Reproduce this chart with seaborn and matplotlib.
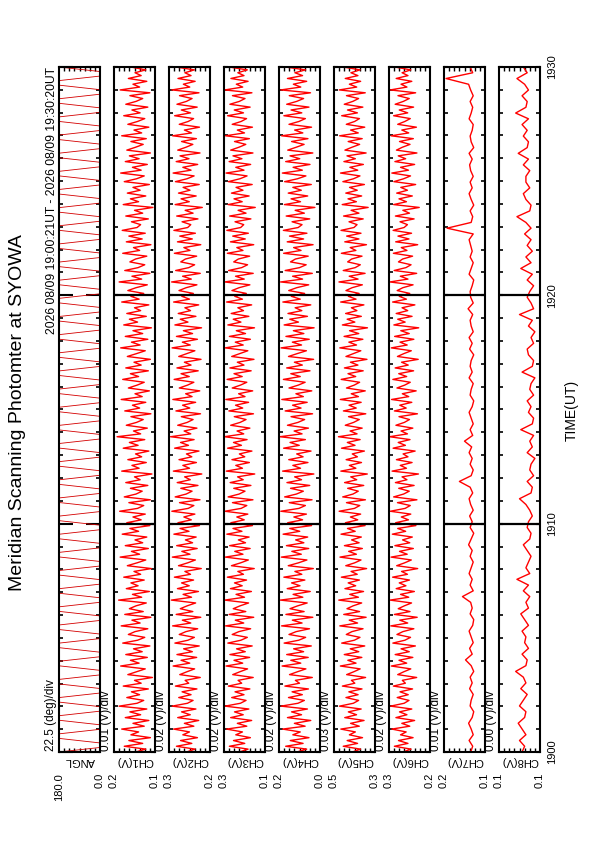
import numpy as np
import matplotlib
matplotlib.use("Agg")
import matplotlib.pyplot as plt
import seaborn as sns
from matplotlib.ticker import MultipleLocator, FixedLocator

sns.set_theme(style="ticks")
plt.rcParams['font.family'] = ['Liberation Sans', 'DejaVu Sans']
plt.rcParams['text.color'] = 'black'
plt.rcParams['xtick.color'] = 'black'
plt.rcParams['ytick.color'] = 'black'
plt.rcParams['xtick.labelcolor'] = 'black'
plt.rcParams['ytick.labelcolor'] = 'black'

# ----- data (time in minutes after 19:00 UT)
angl_deg = [180, 0, 0, 180, 180, 0, 0, 180, 180, 0, 0, 180, 180, 0, 0, 180, 180, 0, 0, 180,
            180, 0, 0, 180, 180, 0, 0, 180, 180, 0, 0, 180, 180, 0, 0, 180, 180, 0, 0, 180,
            180, 0, 0, 180, 180, 0, 0, 180, 180, 0, 0, 180, 180, 0, 0, 180, 180, 0, 0, 180,
            180, 0, 0, 180, 180, 0, 0, 180, 180, 0, 0, 180, 180, 0, 0, 180, 180, 0, 0, 180,
            180, 0, 0, 180, 180, 0, 0, 180, 180, 0, 0, 180, 180, 0, 0, 180, 180, 0, 0, 180,
            180, 0, 0, 180, 180, 0, 0, 180, 180, 0, 0, 180, 180, 0, 0, 180, 180, 0, 0, 180,
            180, 0, 0, 180, 180, 0, 0, 180, 180, 0, 0, 180, 180, 0, 0, 180, 180, 0, 0, 180,
            180, 0, 0, 180, 180, 0, 0, 180, 180, 0, 0, 180]

# channel values in mV
ch1_mv = [138, 118, 160, 124, 151, 109, 147, 132, 165, 121, 143, 112, 158, 128, 149, 116, 170, 135, 122, 155,
          130, 146, 113, 162, 127, 140, 105, 153, 136, 119, 167, 131, 148, 115, 157, 125, 142, 110, 163, 134,
          120, 152, 139, 114, 166, 129, 145, 108, 159, 123, 150, 137, 117, 171, 126, 144, 111, 156, 133, 147,
          121, 161, 128, 141, 107, 154, 135, 118, 168, 130, 146, 113, 158, 124, 139, 116, 164, 132, 149, 110,
          155, 127, 143, 119, 169, 134, 122, 151, 109, 160, 137, 125, 148, 114, 157, 129, 140, 106, 165, 131,
          145, 117, 153, 126, 138, 112, 162, 133, 150, 120, 174, 128, 142, 115, 156, 136, 123, 147, 108, 159,
          130, 144, 118, 166, 125, 139, 111, 152, 135, 121, 163, 132, 148, 113, 157, 127, 141, 109, 154, 136,
          119, 167, 129, 146, 114, 158, 124, 143, 107, 161, 134, 150, 117, 155, 128, 140, 112, 165, 131, 147,
          122, 153, 137, 115, 170, 126, 145, 110, 159, 133, 120, 149, 138, 116, 163, 130, 142, 108, 156, 125,
          151, 119, 164, 135, 128, 146, 113, 157, 124, 140, 104, 162, 132, 148, 118, 154, 129, 143, 111, 160,
          136, 121, 167, 127, 144, 115, 158, 131, 150, 109, 155, 138, 123, 147, 117, 165, 126, 141, 112, 153,
          134, 120, 161, 129, 145, 114, 157, 137, 124, 149, 110, 168, 130, 143, 116, 152, 127, 139, 118, 147]
ch2_mv = [262, 228, 301, 241, 285, 219, 276, 250, 312, 233, 270, 214, 296, 247, 281, 225, 318, 258, 236, 292,
          244, 279, 221, 305, 253, 267, 208, 288, 260, 230, 314, 249, 283, 222, 299, 239, 273, 212, 307, 256,
          231, 290, 264, 218, 316, 245, 278, 206, 302, 237, 286, 259, 226, 321, 242, 275, 215, 297, 251, 281,
          234, 309, 246, 268, 204, 293, 257, 227, 317, 248, 280, 220, 300, 238, 266, 224, 311, 252, 287, 211,
          295, 243, 272, 229, 319, 255, 233, 289, 209, 306, 263, 240, 284, 217, 298, 247, 269, 202, 313, 250,
          276, 223, 291, 241, 262, 213, 308, 254, 285, 232, 324, 245, 271, 221, 296, 259, 236, 282, 207, 303,
          249, 277, 226, 315, 240, 265, 210, 290, 258, 233, 310, 251, 283, 216, 299, 244, 270, 205, 292, 261,
          229, 318, 247, 278, 219, 301, 238, 274, 203, 307, 256, 286, 225, 294, 246, 268, 214, 312, 250, 280,
          235, 291, 263, 221, 320, 243, 277, 208, 304, 253, 230, 284, 266, 222, 309, 248, 272, 206, 297, 239,
          288, 227, 311, 257, 245, 279, 217, 300, 236, 267, 200, 306, 251, 283, 224, 293, 248, 275, 212, 305,
          260, 232, 314, 244, 276, 218, 302, 252, 287, 209, 296, 264, 237, 281, 223, 316, 242, 270, 211, 290,
          255, 234, 308, 246, 282, 220, 299, 262, 240, 289, 213, 319, 249, 274, 228, 295, 244, 268, 231, 303]
ch3_mv = [240, 206, 279, 219, 263, 197, 254, 228, 290, 211, 248, 192, 274, 225, 259, 203, 296, 236, 214, 270,
          222, 257, 199, 283, 231, 245, 186, 266, 238, 208, 292, 227, 261, 200, 277, 217, 251, 190, 285, 234,
          209, 268, 242, 196, 294, 223, 256, 184, 280, 215, 264, 237, 204, 298, 220, 253, 193, 275, 229, 259,
          212, 287, 224, 246, 182, 271, 235, 205, 295, 226, 258, 198, 278, 216, 244, 202, 289, 230, 265, 189,
          273, 221, 250, 207, 297, 233, 211, 267, 187, 284, 241, 218, 262, 195, 276, 225, 247, 180, 291, 228,
          254, 201, 269, 219, 240, 191, 286, 232, 263, 210, 299, 223, 249, 199, 274, 237, 214, 260, 185, 281,
          227, 255, 204, 293, 218, 243, 188, 268, 236, 211, 288, 229, 261, 194, 277, 222, 248, 183, 270, 239,
          207, 296, 225, 256, 197, 279, 216, 252, 181, 285, 234, 264, 203, 272, 224, 246, 192, 290, 228, 258,
          213, 269, 241, 199, 298, 221, 255, 186, 282, 231, 208, 262, 244, 200, 287, 226, 250, 184, 275, 217,
          266, 205, 289, 235, 223, 257, 195, 278, 214, 245, 178, 284, 229, 261, 202, 271, 226, 253, 190, 283,
          238, 210, 292, 222, 254, 196, 280, 230, 265, 187, 274, 242, 215, 259, 201, 294, 220, 248, 189, 268,
          233, 212, 286, 224, 260, 198, 277, 240, 218, 267, 191, 297, 227, 252, 206, 273, 222, 246, 209, 281]
ch4_mv = [130, 92, 174, 106, 156, 83, 146, 117, 186, 98, 140, 76, 167, 112, 151, 89, 192, 126, 101, 163,
          109, 149, 85, 177, 120, 136, 70, 159, 128, 95, 188, 115, 154, 86, 170, 104, 143, 74, 180, 123,
          96, 161, 133, 81, 190, 110, 148, 68, 173, 102, 157, 127, 90, 195, 107, 145, 78, 168, 118, 151,
          99, 181, 111, 138, 66, 164, 124, 91, 191, 113, 150, 84, 171, 103, 135, 88, 184, 119, 158, 73,
          166, 108, 142, 93, 193, 122, 97, 160, 71, 178, 132, 105, 155, 80, 169, 112, 139, 64, 186, 116,
          146, 87, 162, 106, 131, 75, 182, 121, 157, 97, 197, 110, 141, 85, 167, 126, 100, 153, 69, 176,
          114, 147, 90, 189, 105, 134, 72, 161, 125, 98, 183, 117, 154, 79, 170, 109, 140, 65, 163, 129,
          93, 192, 112, 148, 82, 173, 103, 144, 63, 180, 124, 158, 89, 165, 111, 137, 76, 185, 117, 152,
          100, 162, 131, 84, 194, 108, 147, 70, 176, 120, 94, 155, 136, 86, 182, 114, 143, 67, 168, 104,
          159, 91, 183, 125, 110, 149, 80, 172, 101, 137, 60, 179, 116, 153, 88, 164, 113, 146, 74, 178,
          128, 95, 187, 109, 145, 79, 174, 119, 157, 68, 166, 133, 102, 151, 87, 190, 107, 139, 73, 161,
          122, 97, 181, 111, 153, 83, 170, 131, 104, 160, 77, 193, 115, 144, 92, 167, 108, 138, 96, 175]
ch5_mv = [392, 345, 446, 362, 423, 333, 410, 375, 460, 352, 403, 324, 437, 368, 416, 341, 468, 387, 356, 430,
          359, 413, 336, 451, 378, 398, 315, 426, 384, 347, 463, 371, 419, 337, 440, 355, 405, 320, 455, 381,
          348, 428, 395, 330, 466, 362, 411, 312, 443, 350, 424, 388, 338, 472, 357, 408, 327, 436, 373, 417,
          351, 457, 364, 400, 309, 431, 379, 342, 465, 369, 414, 334, 439, 353, 397, 340, 459, 376, 421, 318,
          433, 361, 404, 344, 470, 380, 349, 427, 316, 449, 389, 358, 420, 326, 438, 367, 402, 305, 460, 372,
          410, 339, 429, 363, 393, 322, 456, 377, 422, 347, 474, 365, 406, 335, 434, 385, 352, 415, 314, 445,
          370, 412, 341, 463, 357, 399, 317, 427, 382, 350, 458, 373, 418, 329, 439, 360, 404, 307, 430, 387,
          343, 466, 368, 413, 331, 441, 355, 409, 304, 451, 378, 423, 340, 432, 366, 398, 325, 461, 371, 416,
          353, 430, 394, 334, 471, 359, 411, 318, 446, 376, 346, 420, 397, 336, 457, 372, 405, 310, 437, 354,
          426, 342, 459, 383, 365, 412, 329, 444, 354, 400, 300, 452, 369, 418, 338, 431, 364, 409, 322, 448,
          386, 348, 462, 361, 407, 328, 442, 375, 424, 312, 436, 395, 350, 417, 335, 467, 358, 403, 320, 428,
          379, 351, 455, 363, 421, 331, 440, 390, 356, 427, 317, 469, 367, 410, 344, 434, 360, 401, 347, 447]
ch6_mv = [275, 244, 309, 256, 293, 236, 285, 263, 319, 249, 280, 230, 303, 260, 289, 241, 324, 271, 252, 298,
          255, 287, 238, 313, 266, 278, 222, 296, 272, 245, 321, 261, 291, 237, 306, 251, 283, 227, 315, 268,
          246, 299, 276, 233, 323, 257, 288, 220, 309, 248, 294, 270, 242, 326, 253, 285, 231, 302, 264, 290,
          250, 316, 258, 281, 218, 300, 269, 243, 322, 259, 289, 235, 307, 249, 277, 239, 317, 265, 296, 225,
          304, 254, 282, 245, 325, 267, 247, 297, 221, 312, 273, 251, 292, 232, 305, 260, 279, 215, 318, 262,
          286, 240, 301, 256, 275, 228, 314, 266, 294, 248, 328, 258, 283, 237, 303, 270, 250, 291, 219, 309,
          263, 288, 241, 320, 253, 278, 224, 299, 269, 247, 315, 261, 292, 234, 306, 255, 281, 216, 297, 272,
          243, 321, 259, 287, 233, 308, 251, 284, 214, 311, 267, 296, 240, 302, 257, 279, 229, 316, 262, 290,
          249, 298, 276, 236, 327, 256, 286, 222, 310, 264, 244, 293, 277, 238, 313, 260, 282, 218, 304, 252,
          295, 242, 314, 271, 258, 287, 232, 305, 250, 276, 212, 312, 262, 291, 239, 300, 258, 284, 226, 311,
          273, 246, 319, 254, 285, 230, 307, 265, 294, 221, 301, 278, 248, 289, 235, 322, 253, 280, 223, 296,
          268, 247, 312, 257, 290, 234, 306, 274, 251, 295, 226, 325, 260, 283, 241, 302, 256, 279, 245, 308]
ch7_mv = [128, 124, 131, 123, 127, 132, 125, 122, 129, 127, 123, 130, 125, 129, 122, 127, 138, 125, 130, 123,
          127, 131, 124, 122, 129, 125, 128, 144, 123, 129, 125, 131, 127, 123, 129, 125, 132, 127, 122, 129,
          125, 130, 123, 128, 131, 124, 129, 150, 127, 123, 129, 125, 131, 126, 140, 124, 129, 123, 127, 131,
          125, 122, 129, 127, 123, 131, 125, 129, 127, 122, 130, 125, 131, 123, 127, 129, 124, 133, 123, 128,
          129, 125, 122, 131, 127, 123, 129, 125, 128, 131, 123, 174, 127, 124, 129, 122, 127, 131, 125, 129,
          123, 128, 130, 125, 131, 122, 127, 129, 125, 123, 131, 127, 124, 129, 123, 128, 132, 176, 124, 129]
ch8_mv = [114, 112, 116, 111, 114, 117, 112, 111, 116, 113, 110, 115, 111, 113, 119, 111, 110, 114, 109, 112,
          111, 114, 109, 112, 115, 109, 111, 108, 113, 109, 118, 108, 111, 109, 107, 110, 113, 108, 107, 110,
          109, 106, 108, 111, 116, 107, 106, 110, 105, 108, 107, 104, 110, 106, 108, 105, 115, 106, 105, 109,
          107, 110, 105, 108, 107, 104, 114, 106, 105, 109, 110, 105, 107, 104, 109, 106, 116, 105, 107, 110,
          108, 105, 110, 106, 115, 107, 111, 106, 110, 107, 112, 107, 111, 118, 108, 107, 111, 113, 108, 111,
          111, 108, 113, 109, 117, 110, 109, 113, 110, 114, 109, 119, 111, 110, 114, 109, 112, 118, 110, 113]

names = ["ANGL", "CH1(V)", "CH2(V)", "CH3(V)", "CH4(V)", "CH5(V)", "CH6(V)", "CH7(V)", "CH8(V)"]
scales = ["22.5 (deg)/div", "0.01 (V)/div", "0.02 (V)/div", "0.02 (V)/div", "0.02 (V)/div",
          "0.03 (V)/div", "0.02 (V)/div", "0.01 (V)/div", "0.00 (V)/div"]
lows = [0.0, 0.10, 0.17, 0.14, 0.04, 0.26, 0.17, 0.10, 0.100]
highs = [180.0, 0.18, 0.33, 0.30, 0.20, 0.50, 0.33, 0.18, 0.132]
series = [angl_deg, ch1_mv, ch2_mv, ch3_mv, ch4_mv, ch5_mv, ch6_mv, ch7_mv, ch8_mv]
time_labels = ["1900", "1910", "1920", "1930"]

W, H = 595, 842
fig = plt.figure(figsize=(W / 100, H / 100), dpi=100)

left0, step, pw = 59, 55, 41
top_px, bot_px = 67, 752

for i, name in enumerate(names):
    L = left0 + step * i
    ax = fig.add_axes([L / W, 1 - bot_px / H, pw / W, (bot_px - top_px) / H])
    if i == 0:
        vals = np.array(series[i], dtype=float)
        col, lw = "#d40000", 0.6
    else:
        vals = np.array(series[i], dtype=float) / 1000.0
        col, lw = "#ff0000", 1.0
    t = np.linspace(0, 30, len(vals))
    sns.lineplot(x=vals, y=t, orient="y", sort=False, estimator=None,
                 color=col, lw=lw, ax=ax)
    ax.set_xlim(highs[i], lows[i])
    ax.set_ylim(0, 30)
    ax.set_xlabel("")
    ax.set_ylabel("")
    for s in ax.spines.values():
        s.set_linewidth(1.5)
        s.set_color("black")

    # value axis: 8 divisions
    ax.xaxis.set_minor_locator(FixedLocator(np.linspace(lows[i], highs[i], 9)))
    ax.set_xticks([highs[i], lows[i]])
    ax.set_xticklabels(["{:.1f}".format(highs[i]), "{:.1f}".format(lows[i])], rotation=90)
    ax.tick_params(axis="x", which="major", length=0, pad=15, labelsize=8)
    ax.tick_params(axis="x", which="minor", direction="in", length=3, width=1,
                   top=True, bottom=True)

    # time axis
    ax.yaxis.set_minor_locator(MultipleLocator(1))
    ax.set_yticks([0, 10, 20, 30])
    ax.tick_params(axis="y", which="minor", direction="in", length=3, width=1.2,
                   left=True, right=True)
    if i == 0:
        ax.tick_params(axis="y", which="major", direction="in", length=10, width=1.5,
                       left=True, right=True, labelleft=False)
    else:
        ax.tick_params(axis="y", which="major", direction="in", length=3, width=1.5,
                       left=True, right=True, labelleft=False)
        for m in [10, 20]:
            ax.axhline(m, color="black", lw=1.6, zorder=5)
    if i == len(names) - 1:
        ax.tick_params(axis="y", which="major", labelright=True, labelsize=8, pad=5)
        ax.set_yticklabels(time_labels, rotation=90, va="center")

    ax.text(0.5, -0.006, name, transform=ax.transAxes, rotation=180,
            ha="center", va="top", fontsize=8)
    fig.text((L - 8) / W, 1 - (bot_px - 1) / H, scales[i], rotation=90,
             ha="center", va="bottom", fontsize=8.5)

fig.text(52 / W, 1 - top_px / H, "2026 08/09 19:00:21UT - 2026 08/09 19:30:20UT",
         rotation=90, ha="center", va="top", fontsize=8.7)
fig.text(18 / W, 1 - 413 / H, "Meridian Scanning Photomter at SYOWA",
         rotation=90, ha="center", va="center", fontsize=14)
fig.text(572 / W, 1 - 410 / H, "TIME(UT)", rotation=90, ha="center", va="center",
         fontsize=10)

fig.savefig("out.png", dpi=100, facecolor="white")
